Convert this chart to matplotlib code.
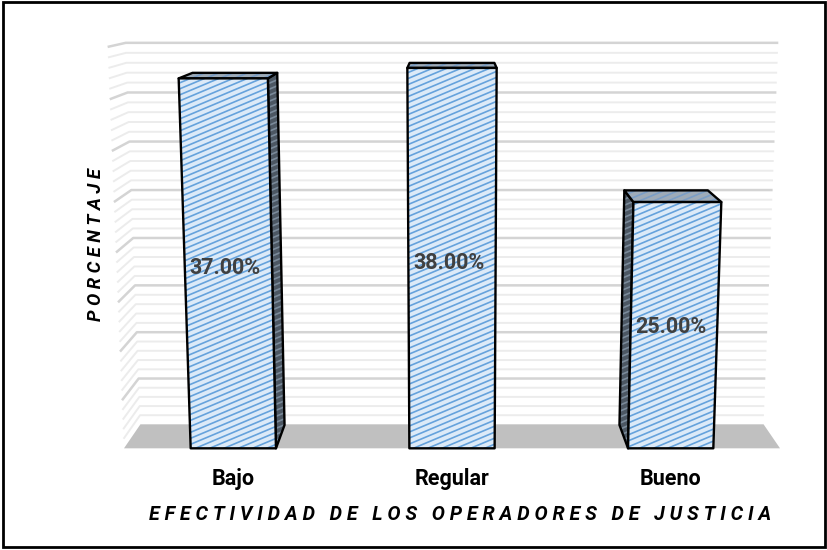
import numpy as np
import matplotlib.pyplot as plt
from matplotlib.patches import Polygon, Rectangle
from matplotlib.collections import LineCollection

# datos del grafico
categorias = ["Bajo", "Regular", "Bueno"]
porcentajes = [37.0, 38.0, 25.0]
y_max = 40          # tope del eje (oculto)
paso_mayor = 5      # lineas de division principales
paso_menor = 1      # lineas secundarias
titulo_x = "EFECTIVIDAD DE LOS OPERADORES DE JUSTICIA"
titulo_y = "PORCENTAJE"

FUENTE = "Roboto"

# camara en perspectiva (imitando el grafico 3D de Excel)
F = 1528.0
PHI = np.radians(10.5)
U0, V0 = 452.0, 252.5
ANCHO_CAT = 224.0
ALTO_PCT = 10.2
FONDO = 84.0
X_OBJ, Y_OBJ = 1.0, 20.0


def proyectar(cat, pct, z):
    dx = (cat - X_OBJ) * ANCHO_CAT
    dy = (pct - Y_OBJ) * ALTO_PCT
    dz = z * FONDO
    yc = dy * np.cos(PHI) + dz * np.sin(PHI)
    zc = -dy * np.sin(PHI) + dz * np.cos(PHI) + F
    return U0 + F * dx / zc, V0 - F * yc / zc


def cara(ax, puntos, fondo, rayas, zo):
    xy = [proyectar(*p) for p in puntos]
    poly = Polygon(xy, closed=True, facecolor=fondo, edgecolor="none", zorder=zo)
    ax.add_patch(poly)
    # rayado diagonal recortado a la cara
    xs = [p[0] for p in xy]
    ys = [p[1] for p in xy]
    pend = 0.42
    u1, u2 = min(xs) - 5, max(xs) + 5
    segs = []
    for c in np.arange(min(ys) - 5, max(ys) + pend * (u2 - u1) + 10, 6.0):
        segs.append([(u1, c), (u2, c - pend * (u2 - u1))])
    lc = LineCollection(segs, colors=rayas, linewidths=1.2, zorder=zo + 0.1)
    lc.set_clip_path(poly)
    ax.add_collection(lc)
    borde = Polygon(xy, closed=True, facecolor="none", edgecolor="black",
                    linewidth=1.7, joinstyle="round", zorder=zo + 0.2)
    ax.add_patch(borde)


fig = plt.figure(figsize=(8.28, 5.5), dpi=100)
ax = fig.add_axes([0, 0, 1, 1])
ax.set_xlim(0, 828)
ax.set_ylim(550, 0)
ax.axis("off")

x_izq, x_der = -0.5, len(categorias) - 0.5

# lineas de division (pared lateral + pared de fondo)
for p in np.arange(paso_menor, y_max + 0.01, paso_menor):
    mayor = abs(p % paso_mayor) < 1e-6
    pts = [proyectar(x_izq, p, 0), proyectar(x_izq, p, 1), proyectar(x_der, p, 1)]
    ax.plot([q[0] for q in pts], [q[1] for q in pts],
            color="#d4d4d4" if mayor else "#ececec",
            lw=1.8 if mayor else 1.4, solid_capstyle="butt", zorder=1)

# piso
piso = [proyectar(x, 0, z) for x, z in [(x_izq, 0), (x_der, 0), (x_der, 1), (x_izq, 1)]]
ax.add_patch(Polygon(piso, closed=True, facecolor="#c0c0c0", edgecolor="none", zorder=2))

# barras
hw = 0.195
zb = 0.97
for i, (cat, val) in enumerate(zip(categorias, porcentajes)):
    xa, xb = i - hw, i + hw
    if X_OBJ > xb:
        cara(ax, [(xb, 0, 0), (xb, 0, zb), (xb, val, zb), (xb, val, 0)],
             "#4c5763", "#7a8a9a", 3)
    elif X_OBJ < xa:
        cara(ax, [(xa, 0, 0), (xa, 0, zb), (xa, val, zb), (xa, val, 0)],
             "#4c5763", "#7a8a9a", 3)
    cara(ax, [(xa, val, 0), (xb, val, 0), (xb, val, zb), (xa, val, zb)],
         "#9eabb8", "#7b9ec6", 4)
    cara(ax, [(xa, 0, 0), (xb, 0, 0), (xb, val, 0), (xa, val, 0)],
         "#dceaf8", "#65a2dc", 5)

    u, v = proyectar(i, val / 2, 0)
    ax.text(u - 3, v, f"{val:.2f}%", ha="center", va="center", fontsize=15.5,
            fontweight="bold", color="#404040", family=FUENTE, zorder=10)

    u, v = proyectar(i, 0, 0)
    ax.text(u, v + 31, cat, ha="center", va="center", fontsize=15.5,
            fontweight="bold", color="black", family=FUENTE, zorder=10)

# titulos de ejes con letras espaciadas
ax.text(460, 514, " ".join(titulo_x), ha="center", va="center", fontsize=14.1,
        fontweight="bold", fontstyle="italic", family=FUENTE, color="black")
ax.text(96, 245, " ".join(titulo_y), ha="center", va="center", fontsize=13.2,
        fontweight="bold", fontstyle="italic", family=FUENTE, color="black",
        rotation=90)

# marco exterior
ax.add_patch(Rectangle((3, 2), 822, 545, fill=False, edgecolor="black", lw=2, zorder=20))

fig.savefig("out.png", dpi=100)
